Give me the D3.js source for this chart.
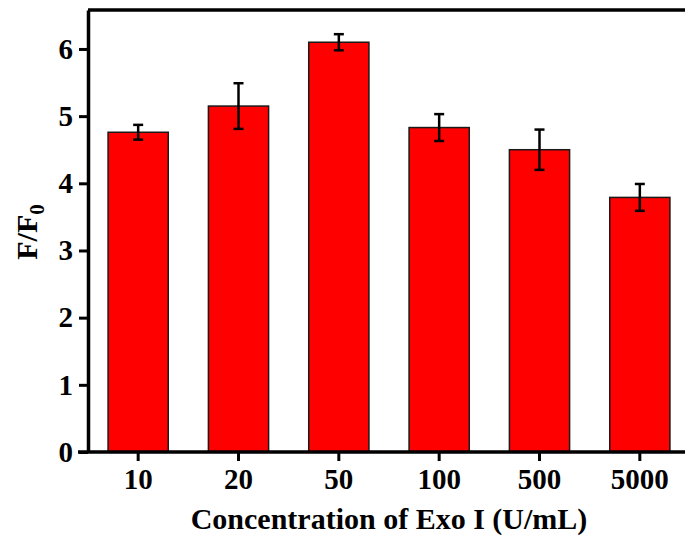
<!DOCTYPE html>
<meta charset="utf-8">
<html>
<script src="https://d3js.org/d3.v7.min.js"></script>
<body style="margin:0;background:#fff;">
<style>
    text { font-family: "Liberation Serif", "Times New Roman", serif; font-weight: bold; fill: #000; }
</style>
<div id="chart"></div>
<script>
    // data
    var categories = ["10", "20", "50", "100", "500", "5000"];
    var ratios = [4.76, 5.15, 6.10, 4.83, 4.50, 3.79];
    var errors = [0.11, 0.34, 0.12, 0.20, 0.30, 0.20];
    var yTicks = [0, 1, 2, 3, 4, 5, 6];

    var W = 685, H = 540;
    var margin = {top: 10, right: -5, bottom: 88, left: 88};
    var width = W - margin.left - margin.right,
        height = H - margin.top - margin.bottom;

    var svg = d3.select("#chart").append("svg")
        .attr("width", W)
        .attr("height", H);

    var g = svg.append("g")
        .attr("transform", "translate(" + margin.left + "," + margin.top + ")");

    //scales
    var x = d3.scaleBand().domain(categories).range([0, width])
        .paddingInner(0.4).paddingOuter(0.2);
    var y = d3.scaleLinear().domain([0, 6.58]).range([height, 0]);

    //bars
    g.selectAll(".bar")
        .data(ratios)
        .enter().append("rect")
        .attr("x", function(d, i) { return x(categories[i]); })
        .attr("y", function(d) { return y(d); })
        .attr("width", x.bandwidth())
        .attr("height", function(d) { return height - y(d); })
        .style("fill", "#ff0000")
        .style("stroke", "#1a1a1a")
        .style("stroke-width", 1.5);

    //error bars
    var cap = 5;
    var eb = g.selectAll(".err")
        .data(ratios)
        .enter().append("g")
        .attr("transform", function(d, i) { return "translate(" + (x(categories[i]) + x.bandwidth() / 2) + ",0)"; });
    eb.append("line")
        .attr("y1", function(d, i) { return y(d + errors[i]); })
        .attr("y2", function(d, i) { return y(d - errors[i]); })
        .style("stroke", "#000").style("stroke-width", 2.5);
    eb.append("line")
        .attr("x1", -cap).attr("x2", cap)
        .attr("y1", function(d, i) { return y(d + errors[i]); })
        .attr("y2", function(d, i) { return y(d + errors[i]); })
        .style("stroke", "#000").style("stroke-width", 2.5);
    eb.append("line")
        .attr("x1", -cap).attr("x2", cap)
        .attr("y1", function(d, i) { return y(d - errors[i]); })
        .attr("y2", function(d, i) { return y(d - errors[i]); })
        .style("stroke", "#000").style("stroke-width", 2.5);

    //top frame line
    g.append("line")
        .attr("x1", 0).attr("x2", width + 10)
        .attr("y1", 0).attr("y2", 0)
        .style("stroke", "#000").style("stroke-width", 3.5);

    //x axis
    var xAxis = g.append("g")
        .attr("transform", "translate(0," + height + ")")
        .call(d3.axisBottom(x).tickSizeInner(9).tickSizeOuter(0).tickPadding(7));
    xAxis.select(".domain").attr("d", "M-10,0H" + (width + 10)).style("stroke-width", 3.5);
    xAxis.selectAll(".tick line").style("stroke-width", 3);
    xAxis.selectAll("text").style("font-size", "29px");

    //y axis
    var yAxis = g.append("g")
        .call(d3.axisLeft(y).tickValues(yTicks).tickFormat(d3.format("d"))
            .tickSizeInner(9).tickSizeOuter(0).tickPadding(6));
    yAxis.select(".domain").style("stroke-width", 3.5);
    yAxis.selectAll(".tick line").style("stroke-width", 3);
    yAxis.selectAll("text").style("font-size", "29px");

    //axis titles
    svg.append("text")
        .attr("x", 389)
        .attr("y", 529)
        .attr("text-anchor", "middle")
        .style("font-size", "30px")
        .text("Concentration of Exo I (U/mL)");

    var yl = svg.append("text")
        .attr("transform", "translate(37," + 232 + ") rotate(-90)")
        .attr("text-anchor", "middle")
        .style("font-size", "30px");
    yl.append("tspan").text("F/F");
    yl.append("tspan").attr("dy", 7).style("font-size", "21px").text("0");
</script>
</body>
</html>
